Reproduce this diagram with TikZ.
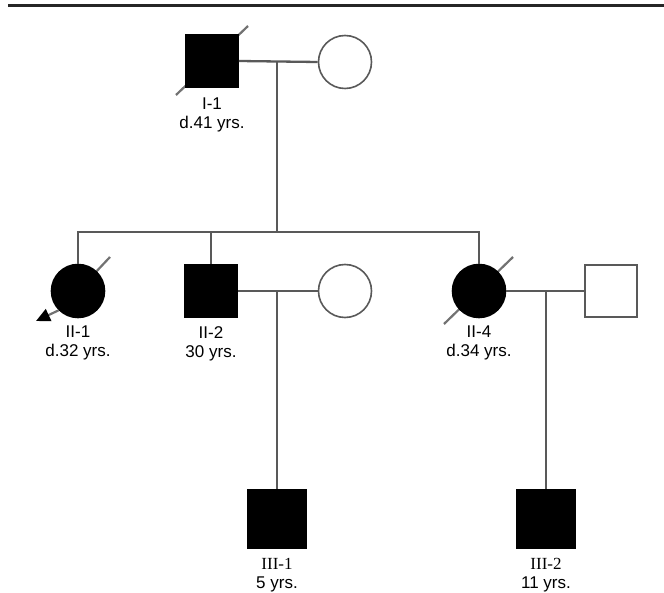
\documentclass[tikz,border=0pt]{standalone}
\usepackage{fontspec}
\setmainfont{Liberation Sans}
\newfontfamily\romfont{Liberation Serif}
\usetikzlibrary{positioning,arrows.meta,backgrounds}
\definecolor{linegray}{HTML}{595959}

\begin{document}
\begin{tikzpicture}[x=1pt, y=-1pt,
    male/.style={rectangle, minimum size=52pt, inner sep=0pt, draw=linegray, line width=1.6pt, fill=white},
    female/.style={circle, minimum size=53pt, inner sep=0pt, draw=linegray, line width=1.6pt, fill=white},
    affected/.style={fill=black, draw=black},
    rel/.style={draw=linegray, line width=2.3pt},
    dead/.style={draw=linegray!85, line width=2.2pt},
    lab/.style={font=\fontsize{17}{19}\selectfont, align=center, inner sep=0pt}]
  \useasboundingbox (0,0) rectangle (664,593);
  \draw[line width=3pt, black!85] (8,6) -- (664,6);

  % generation I
  \node[male, affected] (I1) at (212,61) {};
  \node[female] (I2) at (345,62) {};
  \node[lab, below=10pt of I1] (I1l) {I-1\\d.41 yrs.};

  % generation II
  \node[female, affected] (II1) at (78,291) {};
  \node[male, affected] (II2) at (211,291) {};
  \node[female] (II3) at (345,291) {};
  \node[female, affected] (II4) at (479,291) {};
  \node[male] (II5) at (611,291) {};
  \node[lab, below=7pt of II1] (II1l) {II-1\\d.32 yrs.};
  \node[lab, below=9pt of II2] (II2l) {II-2\\30 yrs.};
  \node[lab, below=7pt of II4] (II4l) {II-4\\d.34 yrs.};

  % generation III
  \node[male, affected, minimum size=59pt] (III1) at (277,519) {};
  \node[male, affected, minimum size=59pt] (III2) at (546,519) {};
  \node[lab, below=9pt of III1] (III1l) {{\romfont III-1}\\5 yrs.};
  \node[lab, below=9pt of III2] (III2l) {{\romfont III-2}\\11 yrs.};

  % deceased slashes, under the symbols
  \begin{scope}[on background layer]
    \draw[dead] (I1) ++(-36,34) -- ++(72,-69);
    \draw[dead] (II1) -- ++(32,-34);
    \draw[dead] (II4) ++(-35,33) -- ++(69,-67);
  \end{scope}

  % proband arrow
  \coordinate (pb) at (36,321);
  \draw[dead, -{Triangle[length=14pt, width=13pt, black]}] (II1.225) -- (pb);

  % matings and lines of descent
  \coordinate (sib) at (0,232);
  \draw[rel] (I1.east) -- (I2.west);
  \draw[rel] (277,62) -- (277,232);
  \draw[rel] (II1.north) -- (II1 |- sib) -- (II4 |- sib) -- (II4.north);
  \draw[rel] (II2.north) -- (II2 |- sib);
  \draw[rel] (II2.east) -- (II3.west);
  \draw[rel] (III1 |- II2) -- (III1.north);
  \draw[rel] (II4.east) -- (II5.west);
  \draw[rel] (III2 |- II4) -- (III2.north);
\end{tikzpicture}
\end{document}
